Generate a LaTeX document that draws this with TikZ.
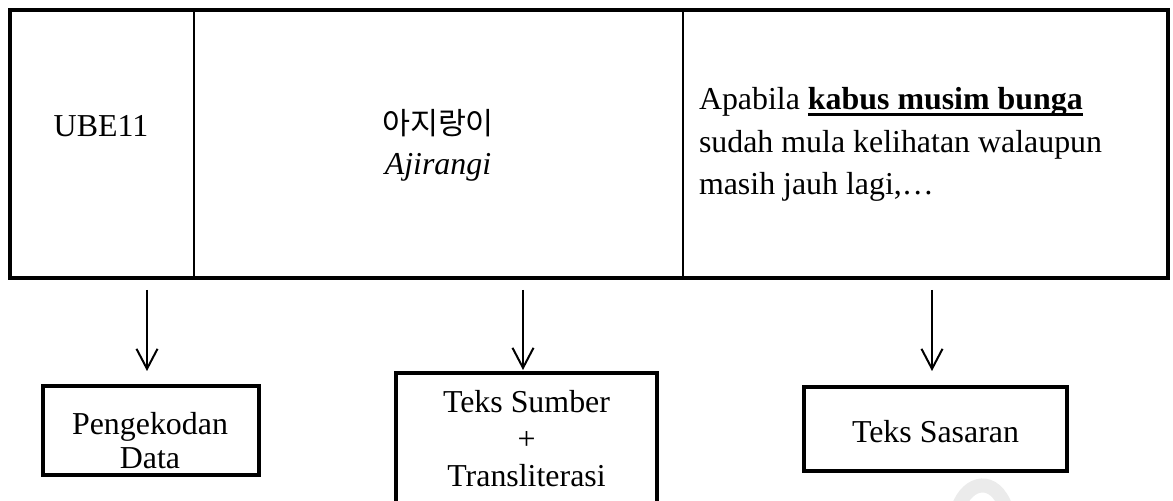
\documentclass[tikz,border=0pt]{standalone}
\usepackage{fontspec}
\setmainfont{Liberation Serif}
\newfontfamily\kr{Noto Sans CJK KR}
\usetikzlibrary{arrows.meta}
\newcommand\mainsz{\fontsize{15.95pt}{19pt}\selectfont}
\newcommand\myul[1]{\setbox0=\hbox{#1}\rlap{\rule[-3.25pt]{\wd0}{1.75pt}}\box0}
\tikzset{
  cell/.style={draw, line width=1.1pt, inner sep=0pt, outer sep=0pt},
  outerframe/.style={line width=2pt},
  flowbox/.style={draw, line width=2pt, inner sep=0pt, outer sep=0pt},
  lbl/.style={inner sep=0pt, outer sep=0pt, anchor=base, font=\mainsz},
  arr/.style={line width=1pt, -{Straight Barb[length=10pt,width=10.5pt]}},
}
\begin{document}
\begin{tikzpicture}[x=0.5pt,y=-0.5pt]
\useasboundingbox (0,0) rectangle (1173,501);
% table
\node[cell, minimum width=92pt, minimum height=134pt] (c1) at (102,144) {};
\node[cell, minimum width=244.5pt, minimum height=134pt] (c2) at (438.5,144) {};
\node[cell, minimum width=242.5pt, minimum height=134pt] (c3) at (925.5,144) {};
\draw[outerframe] (c1.north west) rectangle (c3.south east);
\node[lbl] (t1) at (101,137) {UBE11};
\node[lbl, font=\kr\fontsize{15.2pt}{18pt}\selectfont] (t2) at (438,135) {아지랑이};
\node[lbl] (t3) at (438,175) {\itshape Ajirangi};
\node[lbl, anchor=base west] (r1) at (699,110) {Apabila \myul{\bfseries kabus musim bunga}};
\node[lbl, anchor=base west] (r2) at (699,153) {sudah mula kelihatan walaupun};
\node[lbl, anchor=base west] (r3) at (699,195) {masih jauh lagi,…};
% bottom boxes
\node[flowbox, minimum width=108pt, minimum height=44.5pt] (b1) at (151,430.5) {};
\node[lbl] (b1a) at (150,435) {Pengekodan};
\node[lbl] (b1b) at (150,469) {Data};
\begin{scope}
\clip (0,0) rectangle (1173,501);
\node[flowbox, minimum width=130.5pt, minimum height=80pt] (b2) at (526.5,453) {};
\draw[line width=7pt, black!8] (958,508) .. controls (968,480) and (995,476) .. (1006,508);
\end{scope}
\node[lbl] (b2a) at (526.5,413) {Teks Sumber};
\node[lbl] (b2b) at (526.5,450) {+};
\node[lbl] (b2c) at (526.5,487) {Transliterasi};
\node[flowbox, minimum width=131.5pt, minimum height=42pt] (b3) at (935.5,429) {};
\node[lbl] (b3a) at (935.5,443) {Teks Sasaran};
% arrows
\coordinate (a1) at (147,290);
\coordinate (a2) at (523,290);
\coordinate (a3) at (932,290);
\draw[arr, shorten >=7.5pt] (a1) -- (b1.north -| a1);
\draw[arr, shorten >=1.5pt] (a2) -- (b2.north -| a2);
\draw[arr, shorten >=8pt] (a3) -- (b3.north -| a3);
\end{tikzpicture}
\end{document}
